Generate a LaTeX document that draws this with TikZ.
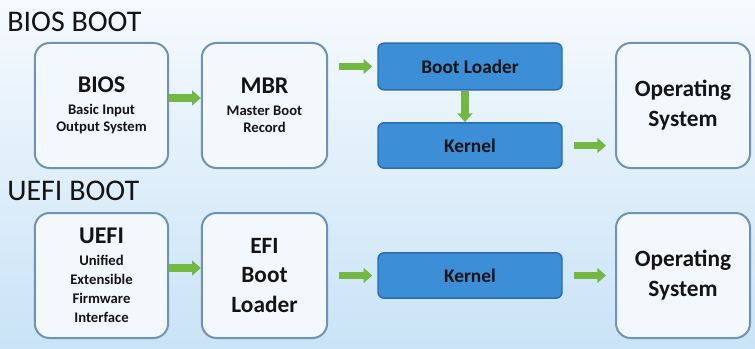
\documentclass[tikz,border=0pt]{standalone}
\usepackage{fontspec}
\setmainfont{Carlito}
\usetikzlibrary{arrows.meta, positioning}
\definecolor{bgTop}{HTML}{F6FAFE}
\definecolor{bgBottom}{HTML}{C9E3F6}
\definecolor{boxFill}{HTML}{F3F8FD}
\definecolor{boxLine}{HTML}{6F92B6}
\definecolor{loaderBlue}{HTML}{3C8ED7}
\definecolor{loaderLine}{HTML}{2A6CAD}
\definecolor{flowGreen}{HTML}{72B843}
\definecolor{inkDark}{HTML}{141414}

\tikzset{
  stage/.style={draw=boxLine, fill=boxFill, line width=1.5pt, rounded corners=11pt,
    minimum height=93.75pt, inner sep=0pt, align=center, text=inkDark},
  loader/.style={draw=loaderLine, fill=loaderBlue, line width=1.1pt, rounded corners=4.5pt,
    minimum width=138pt, inner sep=0pt, text=inkDark,
    font=\bfseries\fontsize{14.5}{16}\selectfont},
  flow/.style={draw=flowGreen, line width=5.4pt, -{Triangle[length=6.5pt, width=11pt]}},
  heading/.style={anchor=west, inner sep=0pt, text=inkDark, font=\fontsize{22.5}{26}\selectfont}
}

\begin{document}
\begin{tikzpicture}[x=0.75pt, y=-0.75pt]
  % background
  \shade[top color=bgTop, bottom color=bgBottom] (0,0) rectangle (755,349);
  \useasboundingbox (0,0) rectangle (755,349);

  % BIOS boot
  \node[heading] (biosHead) at (7,22) {BIOS BOOT};
  \node[stage, minimum width=100pt, font=\bfseries\fontsize{11}{12.75}\selectfont] (bios) at (101.5,105.5)
    {{\fontsize{18}{18}\selectfont BIOS}\\[3.75pt]Basic Input\\Output System};
  \node[stage, minimum width=94pt, font=\bfseries\fontsize{11}{12.75}\selectfont] (mbr) at (264.5,105.5)
    {{\fontsize{18}{18}\selectfont MBR}\\[3.75pt]Master Boot\\Record};
  \node[loader, minimum height=35pt] (bootLoader) at (470,66.5) {Boot Loader};
  \node[loader, minimum height=34pt] (kernelA) at (470,145.5) {Kernel};
  \node[stage, minimum width=100.5pt, font=\bfseries\fontsize{17.5}{22.5}\selectfont] (osA) at (683,105.5)
    {Operating\\System};

  \draw[flow] ([yshift=5.6pt]bios.east) -- ([yshift=5.6pt]mbr.west);
  \draw[flow] ([xshift=8.25pt]mbr.east |- bootLoader.west) -- ([xshift=-3.75pt]bootLoader.west);
  \draw[flow] ([xshift=-3.75pt]bootLoader.south) -- ([xshift=-3.75pt]kernelA.north);
  \draw[flow] ([xshift=8.25pt]kernelA.east) -- ([xshift=-6.75pt]kernelA.east -| osA.west);

  % UEFI boot
  \node[heading] (uefiHead) at (7,191) {UEFI BOOT};
  \node[stage, minimum width=100pt, font=\bfseries\fontsize{11}{14.25}\selectfont] (uefi) at (101.5,275.5)
    {{\fontsize{18}{18}\selectfont UEFI}\\[2.25pt]Unified\\Extensible\\Firmware\\Interface};
  \node[stage, minimum width=94pt, font=\bfseries\fontsize{17.5}{22}\selectfont] (efi) at (264.5,275.5)
    {EFI\\Boot\\Loader};
  \node[loader, minimum height=34pt] (kernelB) at (470,275.5) {Kernel};
  \node[stage, minimum width=100.5pt, font=\bfseries\fontsize{17.5}{22.5}\selectfont] (osB) at (683,275.5)
    {Operating\\System};

  \draw[flow] ([yshift=5.6pt]uefi.east) -- ([yshift=5.6pt]efi.west);
  \draw[flow] ([xshift=8.25pt]efi.east |- kernelB.west) -- ([xshift=-3.75pt]kernelB.west);
  \draw[flow] ([xshift=8.25pt]kernelB.east) -- ([xshift=-6.75pt]kernelB.east -| osB.west);
\end{tikzpicture}
\end{document}
